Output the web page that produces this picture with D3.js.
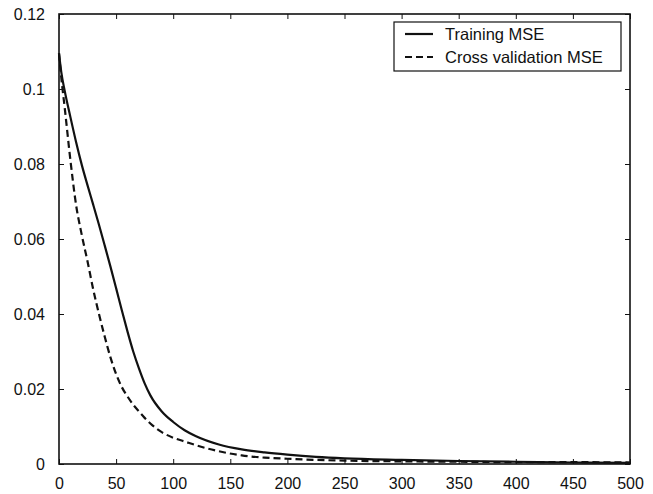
<!DOCTYPE html>
<html>
<head>
<meta charset="utf-8">
<script src="https://cdn.jsdelivr.net/npm/d3@7"></script>
<style>
  body { margin: 0; background: #fff; }
  svg { display: block; font-family: Arial, "Liberation Sans", sans-serif; }
</style>
</head>
<body>
<div id="chart"></div>
<script>
// values
const epochs   = [0, 2, 5, 10, 15, 20, 25, 30, 35, 40, 45, 50, 55, 60, 65, 70, 75, 80, 90, 100, 110, 120, 140, 160, 180, 200, 225, 250, 300, 350, 400, 450, 500];
const trainMse = [0.1095, 0.1045, 0.0995, 0.0925, 0.0858, 0.0797, 0.0743, 0.0691, 0.0638, 0.0583, 0.0527, 0.0469, 0.041, 0.0353, 0.0300, 0.0255, 0.0215, 0.0183, 0.0140, 0.0112, 0.0090, 0.0074, 0.0052, 0.0039, 0.0031, 0.0025, 0.0019, 0.0015, 0.0011, 0.0008, 0.0006, 0.0004, 0.0003];
const cvMse    = [0.1095, 0.103, 0.095, 0.081, 0.069, 0.061, 0.054, 0.0465, 0.040, 0.034, 0.0285, 0.024, 0.0205, 0.018, 0.0158, 0.014, 0.0123, 0.0108, 0.0085, 0.0070, 0.0060, 0.0050, 0.0034, 0.0023, 0.0017, 0.0014, 0.0011, 0.0009, 0.0007, 0.0006, 0.0005, 0.0005, 0.0004];
const xTicks = [0, 50, 100, 150, 200, 250, 300, 350, 400, 450, 500];
const yTicks = [0, 0.02, 0.04, 0.06, 0.08, 0.1, 0.12];
const seriesNames = ["Training MSE", "Cross validation MSE"];

const width = 653, height = 494;
const margin = {top: 14, right: 23, bottom: 30, left: 59};

const svg = d3.select("#chart").append("svg")
  .attr("width", width)
  .attr("height", height);

svg.append("rect").attr("width", width).attr("height", height).attr("fill", "#fff");

const x = d3.scaleLinear().domain([0, 500]).range([margin.left, width - margin.right]);
const y = d3.scaleLinear().domain([0, 0.12]).range([height - margin.bottom, margin.top]);

const line = d3.line()
  .x(d => x(d[0]))
  .y(d => y(d[1]))
  .curve(d3.curveMonotoneX);

const series = [
  {name: seriesNames[0], values: epochs.map((e, i) => [e, trainMse[i]]), dash: null},
  {name: seriesNames[1], values: epochs.map((e, i) => [e, cvMse[i]]), dash: "7,4"}
];

svg.selectAll("path.series")
  .data(series)
  .enter()
  .append("path")
    .attr("class", "series")
    .attr("d", d => line(d.values))
    .attr("fill", "none")
    .attr("stroke", "#111")
    .attr("stroke-width", 2.2)
    .attr("stroke-dasharray", d => d.dash);

// axes, ticks inward on all sides
const fmt = d => d === 0 ? "0" : String(+d.toFixed(2));
const tickSize = 5;

svg.append("g")
  .attr("transform", `translate(0,${y(0)})`)
  .call(d3.axisBottom(x).tickValues(xTicks).tickSize(-tickSize).tickPadding(14).tickFormat(d3.format("d")))
  .call(g => g.select(".domain").remove());
svg.append("g")
  .attr("transform", `translate(0,${y(0.12)})`)
  .call(d3.axisTop(x).tickValues(xTicks).tickSize(-tickSize).tickFormat(""))
  .call(g => g.select(".domain").remove());
svg.append("g")
  .attr("transform", `translate(${x(0)},0)`)
  .call(d3.axisLeft(y).tickValues(yTicks).tickSize(-tickSize).tickPadding(14).tickFormat(fmt))
  .call(g => g.select(".domain").remove());
svg.append("g")
  .attr("transform", `translate(${x(500)},0)`)
  .call(d3.axisRight(y).tickValues(yTicks).tickSize(-tickSize).tickFormat(""))
  .call(g => g.select(".domain").remove());

svg.selectAll(".tick line").attr("stroke", "#111").attr("stroke-width", 1);
svg.selectAll(".tick text").attr("font-size", 16).attr("fill", "#111")
  .attr("font-family", "Arial, 'Liberation Sans', sans-serif");

svg.append("rect")
  .attr("x", x(0)).attr("y", y(0.12))
  .attr("width", x(500) - x(0)).attr("height", y(0) - y(0.12))
  .attr("fill", "none").attr("stroke", "#111").attr("stroke-width", 1.6);

// legend
const legend = svg.append("g").attr("transform", "translate(394,22)");
legend.append("rect")
  .attr("width", 227).attr("height", 49)
  .attr("fill", "#fff").attr("stroke", "#111").attr("stroke-width", 1.2);
const rows = legend.selectAll("g.row")
  .data(series)
  .enter()
  .append("g")
    .attr("class", "row")
    .attr("transform", (d, i) => `translate(0,${12 + i * 23})`);
rows.append("line")
  .attr("x1", 11).attr("x2", 39)
  .attr("stroke", "#111").attr("stroke-width", 2.2)
  .attr("stroke-dasharray", d => d.dash);
rows.append("text")
  .attr("x", 51).attr("y", 5.5)
  .attr("font-size", 16.5)
  .attr("fill", "#111")
  .text(d => d.name);
</script>
</body>
</html>
